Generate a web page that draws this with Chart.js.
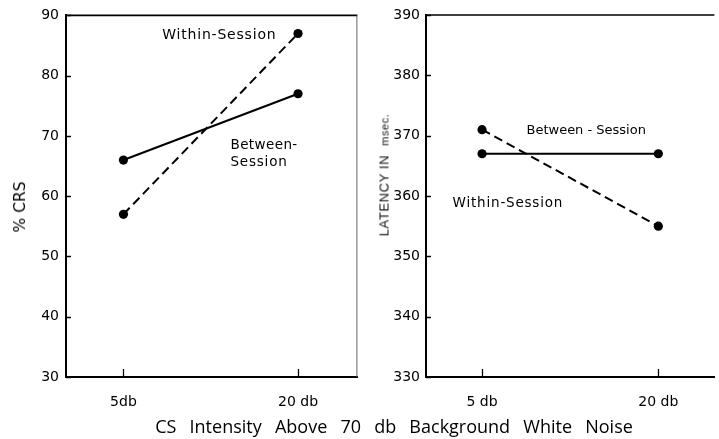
<!DOCTYPE html>
<html><head><meta charset="utf-8">
<script src="https://cdn.jsdelivr.net/npm/chart.js@4.4.1/dist/chart.umd.min.js"></script>
<style>
html,body{margin:0;padding:0;background:#fff;}
body{width:719px;height:439px;overflow:hidden;position:relative;}
#c1{position:absolute;left:0;top:0;}
#c2{position:absolute;left:362px;top:0;}
.yt{position:absolute;white-space:nowrap;transform:translate(-50%,-50%) rotate(-90deg);color:#000;line-height:1;}
#yt1{left:20px;top:207px;font:15.5px "DejaVu Sans";}
#yt2{left:384px;top:175px;font:13px "Liberation Sans";letter-spacing:0.6px;color:#111;}
#yt2 span{font-size:11px;margin-left:9px;letter-spacing:0.6px;}
#xt{position:absolute;left:394px;top:426px;transform:translate(-50%,-50%);white-space:nowrap;font:18px "Open Sans";word-spacing:8.5px;color:#000;}
</style>
</head><body>
<canvas id="c1" width="362" height="415"></canvas>
<canvas id="c2" width="357" height="415"></canvas>
<div class="yt" id="yt1">% CRS</div>
<div class="yt" id="yt2">LATENCY IN<span>msec.</span></div>
<div id="xt">CS Intensity Above 70 db Background White Noise</div>
<script>
// ---- data ----
const xPositions = [0, 1];
const leftCategories = ['5db', '20 db'];
const rightCategories = ['5 db', '20 db'];
const crsBetween = [66, 77];
const crsWithin = [57, 87];
const latencyBetween = [367, 367];
const latencyWithin = [371, 355];
const crsTicks = [30, 40, 50, 60, 70, 80, 90];
const latencyTicks = [330, 340, 350, 360, 370, 380, 390];

const INK = '#000';

const framePlugin = {
  id: 'frame',
  afterDraw(chart, args, opts) {
    const {ctx, chartArea: a, scales: {x, y}} = chart;
    ctx.save();
    ctx.strokeStyle = INK;
    ctx.lineWidth = 1.6;
    ctx.beginPath();
    ctx.moveTo(a.left, a.top); ctx.lineTo(a.right, a.top);
    ctx.stroke();
    if (opts.rightBorder) {
      ctx.strokeStyle = '#666';
      ctx.lineWidth = 1;
      ctx.beginPath();
      ctx.moveTo(a.right - 0.5, a.top); ctx.lineTo(a.right - 0.5, a.bottom);
      ctx.stroke();
    }
    ctx.strokeStyle = INK;
    ctx.lineWidth = 1.3;
    ctx.beginPath();
    y.ticks.forEach(t => {
      const py = Math.round(y.getPixelForValue(t.value)) + 0.5;
      ctx.moveTo(a.left, py); ctx.lineTo(a.left + 5, py);
    });
    x.ticks.forEach(t => {
      const px = Math.round(x.getPixelForValue(t.value)) + 0.5;
      ctx.moveTo(px, a.bottom); ctx.lineTo(px, a.bottom - 8);
    });
    ctx.stroke();
    ctx.fillStyle = INK;
    ctx.textBaseline = 'middle';
    ctx.textAlign = 'left';
    (opts.labels || []).forEach(l => {
      ctx.font = l.size + 'px "DejaVu Sans"';
      ctx.letterSpacing = l.spacing + 'px';
      ctx.fillText(l.text, x.getPixelForValue(l.x), y.getPixelForValue(l.y));
    });
    ctx.restore();
  }
};

function makeChart(id, cats, between, within, yTicks, xMin, xMax, yWidth, padRight, yPad, labels, rightBorder) {
  const ds = (vals, dash) => ({
    data: xPositions.map((p, i) => ({x: p, y: vals[i]})),
    borderColor: INK, backgroundColor: INK,
    borderWidth: 2, borderDash: dash,
    pointRadius: 4.6, pointHoverRadius: 4.6,
    pointBackgroundColor: INK, pointBorderColor: INK, pointBorderWidth: 0,
    tension: 0
  });
  return new Chart(document.getElementById(id), {
    type: 'line',
    data: {datasets: [ds(between, []), ds(within, [9, 5])]},
    options: {
      responsive: false, animation: false,
      layout: {padding: {top: 15, left: 0, right: padRight, bottom: 0}},
      plugins: {legend: {display: false}, tooltip: {enabled: false},
        frame: {labels, rightBorder}},
      scales: {
        x: {
          type: 'linear', min: xMin, max: xMax,
          grid: {display: false, drawTicks: false},
          border: {display: true, color: INK, width: 2},
          afterBuildTicks: s => { s.ticks = xPositions.map(v => ({value: v})); },
          afterFit: s => { s.height = 38; },
          ticks: {padding: 17, color: INK, font: {family: 'DejaVu Sans', size: 14},
            maxRotation: 0, autoSkip: false,
            callback: v => cats[xPositions.indexOf(v)]}
        },
        y: {
          min: yTicks[0], max: yTicks[yTicks.length - 1],
          grid: {display: false, drawTicks: false},
          border: {display: true, color: INK, width: 2},
          afterBuildTicks: s => { s.ticks = yTicks.map(v => ({value: v})); },
          afterFit: s => { s.width = yWidth; },
          ticks: {padding: yPad, color: INK, font: {family: 'DejaVu Sans', size: 14}}
        }
      }
    },
    plugins: [framePlugin]
  });
}

makeChart('c1', leftCategories, crsBetween, crsWithin, crsTicks, -0.329, 1.34, 66, 2, 7,
  [{text: 'Within-Session', x: 0.222, y: 86.7, size: 14, spacing: 0.8},
   {text: 'Between-', x: 0.613, y: 68.4, size: 13.5, spacing: 0.4},
   {text: 'Session', x: 0.613, y: 65.6, size: 13.5, spacing: 0.8}], true);
makeChart('c2', rightCategories, latencyBetween, latencyWithin, latencyTicks, -0.318, 1.318, 64, 0, 6,
  [{text: 'Between - Session', x: 0.252, y: 370.8, size: 13, spacing: 0},
   {text: 'Within-Session', x: -0.167, y: 358.7, size: 13.5, spacing: 0.8}], false);
</script>
</body></html>
